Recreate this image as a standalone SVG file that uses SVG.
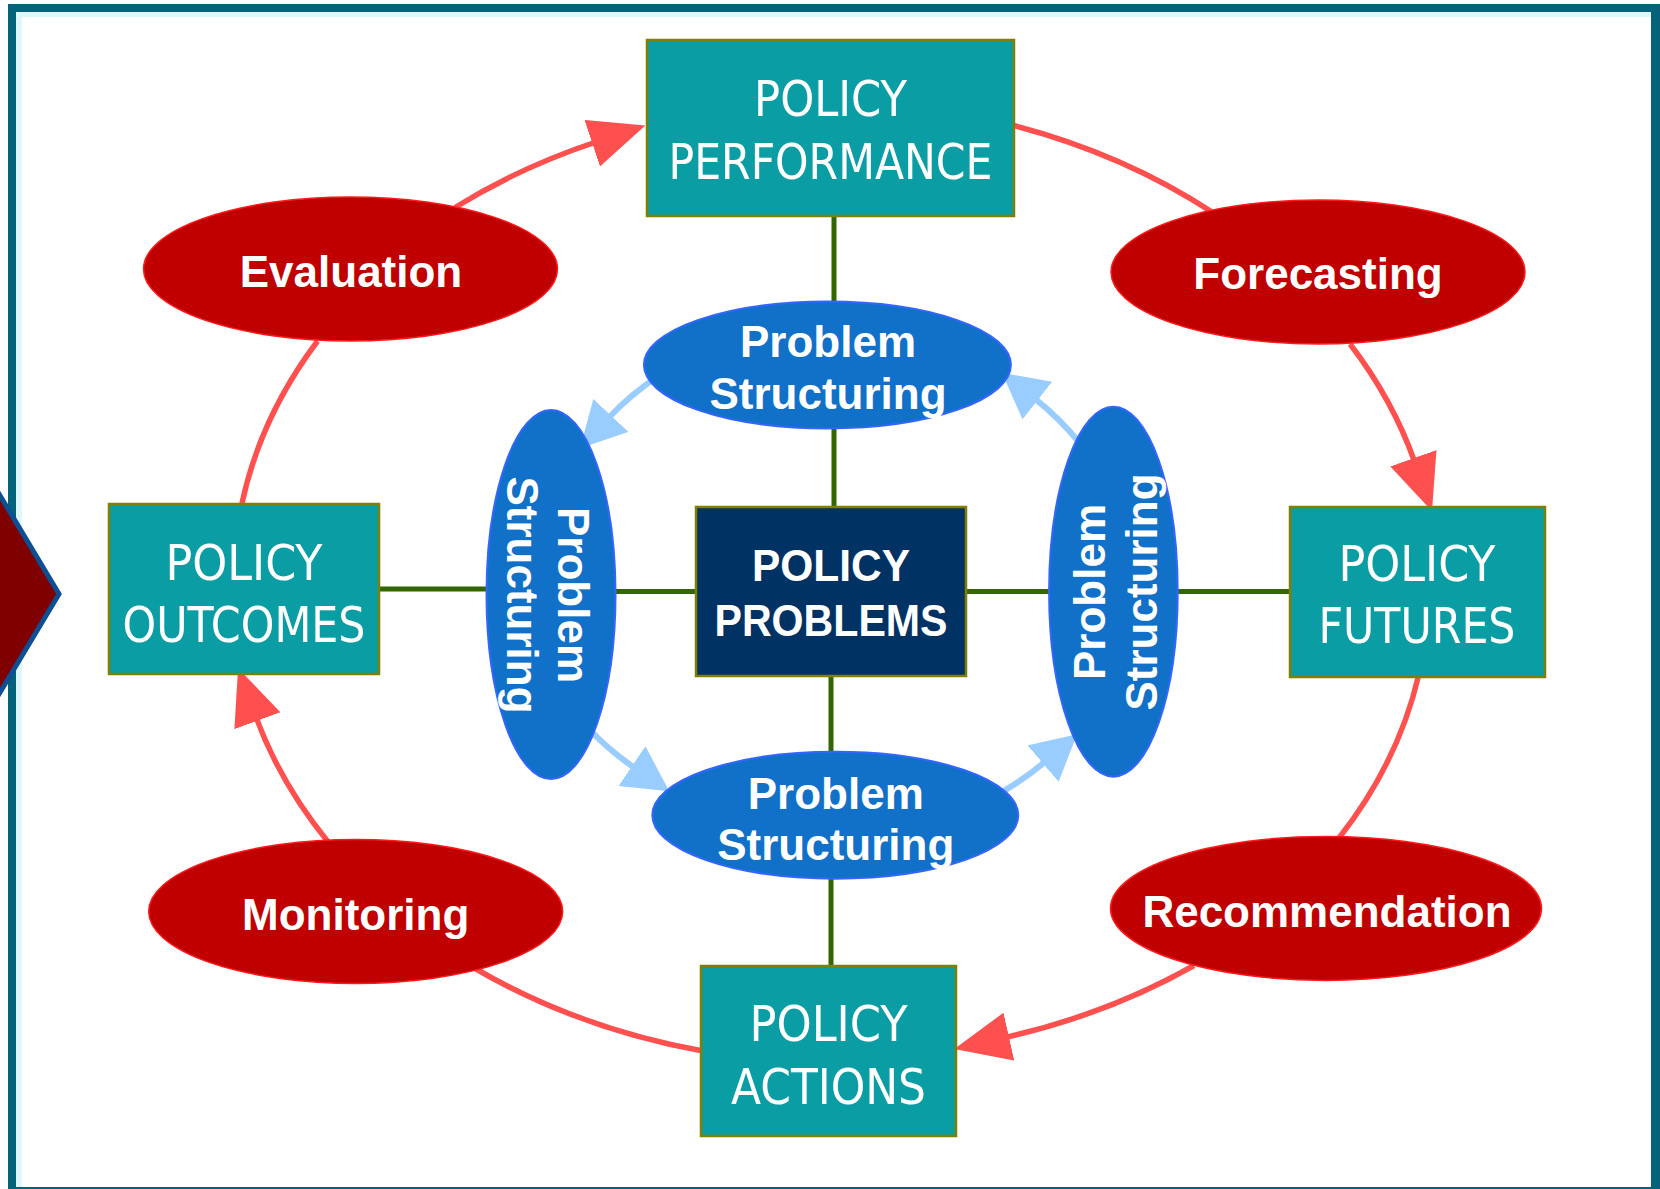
<svg xmlns="http://www.w3.org/2000/svg" width="1660" height="1189" viewBox="0 0 1660 1189">
<style>
.box{fill:#0a9da4;stroke:#808000;stroke-width:2.5}
.core{fill:#003264;stroke:#808000;stroke-width:2.5}
.red{fill:#c00000;stroke:#ff1a1a;stroke-width:1.5}
.blue{fill:#1170c8;stroke:#3366ff;stroke-width:2}
.reg{font-family:"DejaVu Sans Condensed","DejaVu Sans",sans-serif;font-stretch:condensed;font-size:49px;fill:#ffffff;text-anchor:middle}
.bold{font-family:"Liberation Sans",Arial,sans-serif;font-weight:bold;font-size:44px;fill:#ffffff;text-anchor:middle}
.g{stroke:#336600;stroke-width:5;fill:none}
.rl{stroke:#ff5050;stroke-width:5.5;fill:none}
.bl{stroke:#99ccff;stroke-width:6;fill:none}
</style>
<defs>
<marker id="rh" markerUnits="userSpaceOnUse" markerWidth="60" markerHeight="52" refX="4" refY="24.5" orient="auto">
<path d="M0,0 L56,24.5 L0,49 z" fill="#ff5050"/>
</marker>
<marker id="bh" markerUnits="userSpaceOnUse" markerWidth="48" markerHeight="50" refX="4" refY="24" orient="auto">
<path d="M0,0 L45,24 L0,48 z" fill="#99ccff"/>
</marker>
</defs>
<rect x="0" y="0" width="1660" height="1189" fill="#ffffff"/>
<g id="frame">
<rect x="16" y="12" width="1635" height="5" fill="#dff7fb"/>
<rect x="16" y="12" width="6" height="1177" fill="#dff7fb"/>
<rect x="8" y="4" width="1652" height="8" fill="#04637b"/>
<rect x="8" y="4" width="8" height="1185" fill="#04637b"/>
<rect x="1651" y="4" width="9" height="1185" fill="#04637b"/>
<rect x="8" y="1187" width="1652" height="2" fill="#04637b"/>
</g>
<g id="side-arrow">
<polygon points="-62,392 59,594 -62,796" fill="#800000" stroke="#0d4f94" stroke-width="5" stroke-linejoin="miter" stroke-miterlimit="2"/>
</g>
<g id="connectors">
<line class="g" x1="834" y1="214" x2="834" y2="304"/>
<line class="g" x1="834" y1="426" x2="834" y2="508"/>
<line class="g" x1="831" y1="675" x2="831" y2="754"/>
<line class="g" x1="831" y1="876" x2="831" y2="967"/>
<line class="g" x1="377" y1="589" x2="489" y2="589"/>
<line class="g" x1="613" y1="591.5" x2="697" y2="591.5"/>
<line class="g" x1="965" y1="591.5" x2="1051" y2="591.5"/>
<line class="g" x1="1176" y1="591.5" x2="1291" y2="591.5"/>
<path class="rl" d="M455,207.5 A610,475 0 0 1 596,142" marker-end="url(#rh)"/>
<path class="rl" d="M1012,125 A610,475 0 0 1 1212,212"/>
<path class="rl" d="M1350,344 A610,475 0 0 1 1414.7,462" marker-end="url(#rh)"/>
<path class="rl" d="M1418.7,675 A610,475 0 0 1 1339,838"/>
<path class="rl" d="M1194,965.5 A610,475 0 0 1 1005,1037.5" marker-end="url(#rh)"/>
<path class="rl" d="M703,1051 A610,475 0 0 1 476,969"/>
<path class="rl" d="M328,841.7 A610,475 0 0 1 256,717" marker-end="url(#rh)"/>
<path class="rl" d="M241.4,506 A610,475 0 0 1 317.6,341"/>
<path class="bl" d="M660,375 A280,280 0 0 0 608.1,418.3" marker-end="url(#bh)"/>
<path class="bl" d="M588,728 A280,280 0 0 0 635.3,768.3" marker-end="url(#bh)"/>
<path class="bl" d="M1000,793 A280,280 0 0 0 1046,760.9" marker-end="url(#bh)"/>
<path class="bl" d="M1082,446 A280,280 0 0 0 1034.2,398.1" marker-end="url(#bh)"/>
</g>
<g id="policy-performance">
<rect class="box" x="647" y="40" width="367" height="176"/>
<text class="reg" x="830.5" y="116" textLength="153" lengthAdjust="spacingAndGlyphs">POLICY</text>
<text class="reg" x="830.5" y="179" textLength="324" lengthAdjust="spacingAndGlyphs">PERFORMANCE</text>
</g>
<g id="policy-outcomes">
<rect class="box" x="109" y="504" width="270" height="170"/>
<text class="reg" x="244" y="580" textLength="157" lengthAdjust="spacingAndGlyphs">POLICY</text>
<text class="reg" x="244" y="642" textLength="243" lengthAdjust="spacingAndGlyphs">OUTCOMES</text>
</g>
<g id="policy-futures">
<rect class="box" x="1290" y="507" width="255" height="170"/>
<text class="reg" x="1417" y="581" textLength="157" lengthAdjust="spacingAndGlyphs">POLICY</text>
<text class="reg" x="1417" y="643" textLength="197" lengthAdjust="spacingAndGlyphs">FUTURES</text>
</g>
<g id="policy-actions">
<rect class="box" x="701" y="966" width="255" height="170"/>
<text class="reg" x="828.5" y="1041" textLength="158" lengthAdjust="spacingAndGlyphs">POLICY</text>
<text class="reg" x="828.5" y="1104" textLength="195" lengthAdjust="spacingAndGlyphs">ACTIONS</text>
</g>
<g id="policy-problems">
<rect class="core" x="696" y="507" width="270" height="169"/>
<text class="bold" x="831" y="581" font-size="42" textLength="158" lengthAdjust="spacingAndGlyphs">POLICY</text>
<text class="bold" x="831" y="636" font-size="42" textLength="233" lengthAdjust="spacingAndGlyphs">PROBLEMS</text>
</g>
<g id="evaluation">
<ellipse class="red" cx="350.5" cy="269" rx="207" ry="72"/>
<text class="bold" x="351" y="287">Evaluation</text>
</g>
<g id="forecasting">
<ellipse class="red" cx="1318" cy="272" rx="207" ry="72"/>
<text class="bold" x="1318" y="289">Forecasting</text>
</g>
<g id="monitoring">
<ellipse class="red" cx="355.7" cy="911.5" rx="207" ry="72"/>
<text class="bold" x="355.7" y="929.5">Monitoring</text>
</g>
<g id="recommendation">
<ellipse class="red" cx="1326" cy="908.4" rx="215.5" ry="72"/>
<text class="bold" x="1327" y="927.4">Recommendation</text>
</g>
<g id="ps-top">
<ellipse class="blue" cx="827.4" cy="365" rx="183.5" ry="63.5"/>
<text class="bold" x="828" y="357">Problem</text>
<text class="bold" x="828" y="408.5">Structuring</text>
</g>
<g id="ps-bottom">
<ellipse class="blue" cx="835.3" cy="815.2" rx="183" ry="63.5"/>
<text class="bold" x="835.8" y="809">Problem</text>
<text class="bold" x="835.8" y="859.7">Structuring</text>
</g>
<g id="ps-left">
<ellipse class="blue" cx="551" cy="594.5" rx="64.5" ry="184.5"/>
<g transform="translate(558.3,595) rotate(90)">
<text class="bold" x="0" y="0">Problem</text>
<text class="bold" x="0" y="51">Structuring</text>
</g>
</g>
<g id="ps-right">
<ellipse class="blue" cx="1113.4" cy="591.7" rx="64.3" ry="185"/>
<g transform="translate(1105,592) rotate(-90)">
<text class="bold" x="0" y="0">Problem</text>
<text class="bold" x="0" y="51.5">Structuring</text>
</g>
</g>
</svg>
